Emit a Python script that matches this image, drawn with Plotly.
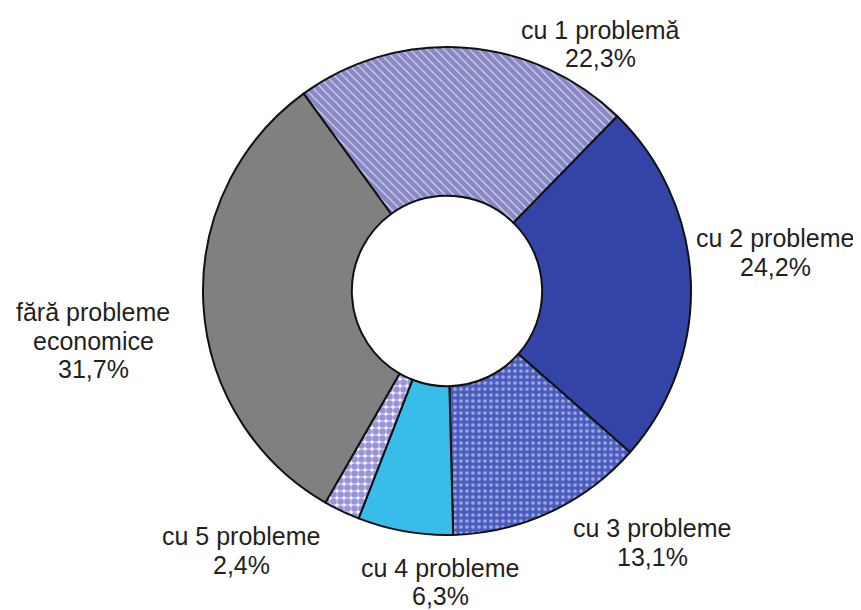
import plotly.graph_objects as go

# Data
categories = ["cu 1 problemă", "cu 2 probleme", "cu 3 probleme",
              "cu 4 probleme", "cu 5 probleme", "fără probleme<br>economice"]
values = [22.3, 24.2, 13.1, 6.3, 2.4, 31.7]

# Styles
slice_colors = ["#e6e6f4", "#3343a6", "#4a5cc0", "#38bdeb", "#f0f0f6", "#808080"]
pattern_shapes = ["\\", "", ".", "", ".", ""]
pattern_fg = ["#2a2a96", "#3343a6", "#eef2fc", "#38bdeb", "#4038b8", "#808080"]
pattern_size = [6, 8, 6, 8, 7, 8]
pattern_solidity = [0.85, 0.3, 0.3, 0.3, 0.7, 0.3]

# page offset (browser body margin)
OFF = 8
W, H = 861, 610
# label placement in screen px: (center x, first line y), line step px
label_px = [(600, 30), (775, 238), (652, 528), (440, 568), (241, 536), (93, 312)]
line_steps = [28.5, 28.5, 28.5, 28, 28.5, 28.5]
# pie placement in screen px
cx, cy, r = 447, 291, 244


def fmt(v):
    return f"{v:.1f}".replace(".", ",") + "%"


def px2paper(x, y):
    return (x - OFF) / W, 1 - (y - OFF) / H


x0, y1 = px2paper(cx - r, cy - r)
x1, y0 = px2paper(cx + r, cy + r)

fig = go.Figure(go.Pie(
    labels=categories,
    values=values,
    sort=False,
    direction="clockwise",
    rotation=-36,
    hole=0.39,
    textinfo="none",
    hoverinfo="label+percent",
    marker=dict(
        colors=slice_colors,
        line=dict(color="#111111", width=2),
        pattern=dict(shape=pattern_shapes, fillmode="overlay",
                     fgcolor=pattern_fg, size=pattern_size,
                     solidity=pattern_solidity),
    ),
    domain=dict(x=[x0, x1], y=[y0, y1]),
    showlegend=False,
))

for cat, v, (px, py), step in zip(categories, values, label_px, line_steps):
    lines = cat.split("<br>") + [fmt(v)]
    for i, ln in enumerate(lines):
        ax, ay = px2paper(px, py + i * step)
        fig.add_annotation(
            x=ax, y=ay, xref="paper", yref="paper",
            text=ln, showarrow=False,
            xanchor="center", yanchor="middle",
            font=dict(family="Liberation Sans, Arial, sans-serif", size=25, color="#231f20"),
        )

fig.update_layout(
    width=W, height=H,
    margin=dict(l=0, r=0, t=0, b=0),
    paper_bgcolor="white",
    plot_bgcolor="white",
)

fig.write_html("out.html")
